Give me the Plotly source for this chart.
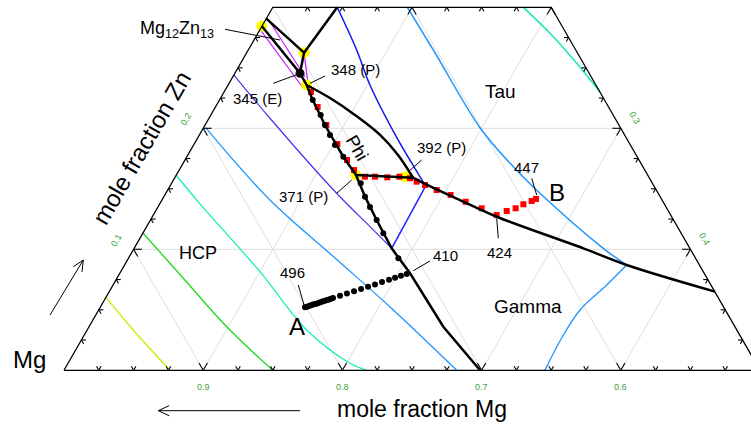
import numpy as np
import plotly.graph_objects as go

W, H = 751, 425
FONT = "Liberation Sans, Arial, sans-serif"

# ---------------- data: mole fraction Mg and Zn (Al = 1 - Mg - Zn) ----------------
# isotherms (coloured lines)
iso1_mg = [0.9397, 0.9336, 0.9239]
iso1_zn = [0.0603, 0.0333, 0.0]
iso2_mg = [0.8866, 0.8760, 0.8651, 0.8501]
iso2_zn = [0.1137, 0.0750, 0.0360, 0.0]
iso3_mg = [0.8388, 0.8343, 0.8185, 0.8090, 0.7916, 0.7825]
iso3_zn = [0.1614, 0.1407, 0.0815, 0.0333, 0.0058, 0.0]
iso3b_mg = [0.5200, 0.5116, 0.5048, 0.5000]
iso3b_zn = [0.3000, 0.2785, 0.2537, 0.2302]
iso4_mg = [0.7980, 0.7817, 0.7589, 0.7396, 0.7179]
iso4_zn = [0.2005, 0.1407, 0.0928, 0.0523, 0.0]
iso4b_mg = [0.6034, 0.6023, 0.6009, 0.5940, 0.5849, 0.5622, 0.5523]
iso4b_zn = [0.3000, 0.2647, 0.2005, 0.1711, 0.1463, 0.1008, 0.0870]
iso4c_mg = [0.5523, 0.5749, 0.6044, 0.6291, 0.6545]
iso4c_zn = [0.0870, 0.0705, 0.0498, 0.0267, 0.0]
iso5_mg = [0.6537, 0.6574, 0.6623, 0.6648, 0.6645, 0.6641]
iso5_zn = [0.3000, 0.2647, 0.2358, 0.1920, 0.1672, 0.1523]
iso5b_mg = [0.6641, 0.7142]
iso5b_zn = [0.1523, 0.1008]
iso6_mg = [0.7559, 0.7479, 0.7310, 0.7208, 0.7142]
iso6_zn = [0.2440, 0.2083, 0.1463, 0.1187, 0.1008]

# magenta tie lines near Mg12Zn13
mag1_mg = [0.7082, 0.7056]
mag1_zn = [0.2901, 0.2426]
mag2_mg = [0.7183, 0.7115]
mag2_zn = [0.2818, 0.2331]
mag3_mg = [0.6963, 0.7064]
mag3_zn = [0.2625, 0.2366]

# phase boundaries (black)
bd_top_mg = [0.6537, 0.6963]
bd_top_zn = [0.3000, 0.2625]
bd_left_mg = [0.7094, 0.6963, 0.7077]
bd_left_zn = [0.2909, 0.2625, 0.2455]
bd_phi_mg = [0.7157, 0.7077, 0.7078, 0.7096, 0.7112, 0.7111, 0.7095, 0.7120,
             0.7133, 0.7142, 0.7113, 0.7095, 0.7011]
bd_phi_zn = [0.2845, 0.2455, 0.2358, 0.2234, 0.2027, 0.1765, 0.1614, 0.1435,
             0.1242, 0.1008, 0.0802, 0.0360, 0.0]
bd_tau_mg = [0.7078, 0.6964, 0.6855, 0.6757, 0.6711, 0.6697]
bd_tau_zn = [0.2358, 0.2250, 0.2110, 0.1945, 0.1779, 0.1592]
bd_hor_mg = [0.7095, 0.6750, 0.6697]
bd_hor_zn = [0.1614, 0.1600, 0.1592]
bd_gam_mg = [0.6697, 0.6637, 0.6452, 0.6257, 0.5765, 0.5523, 0.4998]
bd_gam_zn = [0.1592, 0.1540, 0.1407, 0.1269, 0.1008, 0.0870, 0.0650]

# invariant points (yellow) and eutectic point
inv_mg = [0.7157, 0.6963, 0.7078, 0.7095, 0.6750]
inv_zn = [0.2845, 0.2625, 0.2358, 0.1614, 0.1600]
eut_mg = [0.7077]
eut_zn = [0.2455]

# solidification path B (red squares)
sq_mg = [0.7076, 0.7090, 0.7102, 0.7101, 0.7098, 0.7089,
         0.7038, 0.6966, 0.6880, 0.6791, 0.6721, 0.6687, 0.6641,
         0.6578, 0.6498, 0.6418, 0.6330, 0.6250,
         0.6161, 0.6086, 0.6014, 0.5941, 0.5901]
sq_zn = [0.2300, 0.2176, 0.2027, 0.1870, 0.1738, 0.1655,
         0.1600, 0.1600, 0.1595, 0.1600, 0.1587, 0.1559, 0.1531,
         0.1490, 0.1449, 0.1393, 0.1339, 0.1283,
         0.1317, 0.1339, 0.1372, 0.1399, 0.1416]

# solidification path A (black dots) along the Phi boundary
phi_dot_mg = [0.7096, 0.7101, 0.7112, 0.7117, 0.7122, 0.7111, 0.7096, 0.7120,
              0.7127, 0.7133, 0.7140, 0.7135]
phi_dot_zn = [0.2234, 0.2110, 0.2027, 0.1945, 0.1862, 0.1765, 0.1545, 0.1435,
              0.1350, 0.1242, 0.1132, 0.0926]
# solidification path A (black dots) in HCP field
a_dot_mg = [0.8008, 0.7991, 0.7974, 0.7957, 0.7940, 0.7923, 0.7906, 0.7888,
            0.7871, 0.7854, 0.7837, 0.7820, 0.7803, 0.7786, 0.7769, 0.7709,
            0.7650, 0.7590, 0.7530, 0.7470, 0.7411, 0.7351, 0.7291, 0.7240,
            0.7189, 0.7140]
a_dot_zn = [0.0521, 0.0526, 0.0532, 0.0537, 0.0543, 0.0548, 0.0553, 0.0559,
            0.0564, 0.0570, 0.0575, 0.0580, 0.0586, 0.0591, 0.0597, 0.0616,
            0.0635, 0.0653, 0.0672, 0.0691, 0.0710, 0.0729, 0.0748, 0.0764,
            0.0781, 0.0796]

# axis tick labels
mg_tick_labels = [0.9, 0.8, 0.7, 0.6]
zn_tick_labels = [0.1, 0.2]
al_tick_labels = [0.3, 0.4]
MG_MIN, ZN_MAX = 0.5, 0.3

# ---------------- layout-only items (pixel positions) ----------------
LABELS = [
    ("Mg<sub>12</sub>Zn<sub>13</sub>", 177, 29, 18, 0),
    ("348 (P)", 355.5, 70, 15, 0),
    ("345 (E)", 257.7, 98, 15, 0),
    ("Phi", 357, 148, 18, 60),
    ("392 (P)", 441.3, 147, 15, 0),
    ("371 (P)", 303, 196, 15, 0),
    ("Tau", 500, 91, 19, 0),
    ("447", 526, 167, 15, 0),
    ("B", 557, 192, 24, 0),
    ("424", 499.3, 252.7, 15, 0),
    ("410", 445, 255, 15, 0),
    ("Gamma", 527.7, 306, 19, 0),
    ("HCP", 197.7, 253.3, 18, 0),
    ("496", 292.7, 272.7, 15, 0),
    ("A", 296.7, 326, 24, 0),
    ("Mg", 29.5, 359, 24, 0),
    ("mole fraction Mg", 422, 409, 23, 0),
    ("mole fraction Zn", 142, 148, 24, -60),
]
LEADERS = [
    ((225, 29.3), (280, 40)),
    ((325, 76), (310, 83.3)),
    ((273.3, 83.3), (296, 75)),
    ((421.7, 160), (408.3, 171.7)),
    ((336.7, 193.3), (351.7, 180)),
    ((531.7, 178.3), (536.7, 195)),
    ((496.7, 218.3), (498.3, 238.3)),
    ((430, 261), (413.3, 270.7)),
    ((298.3, 285), (304, 305)),
]
ARROWS = [((300, 410.7), (158.3, 410.7)), ((50, 315), (83.3, 260))]


def XY(mg, zn):
    mg = np.asarray(mg, dtype=float)
    zn = np.asarray(zn, dtype=float)
    return (1.0 - mg - zn / 2.0).tolist(), zn.tolist()


def P(px, py):
    return px / W, 1 - py / H


fig = go.Figure()


def add_line(mg, zn, color, width, shape="linear"):
    x, y = XY(mg, zn)
    fig.add_trace(go.Scatter(x=x, y=y, mode="lines", line=dict(color=color, width=width, shape=shape),
                             hoverinfo="skip", showlegend=False))


def add_segments(segs, color, width):
    xs, ys = [], []
    for (m0, z0), (m1, z1) in segs:
        x, y = XY([m0, m1], [z0, z1])
        xs += x + [None]
        ys += y + [None]
    fig.add_trace(go.Scatter(x=xs, y=ys, mode="lines", line=dict(color=color, width=width),
                             hoverinfo="skip", showlegend=False))


def add_markers(mg, zn, symbol, size, color):
    x, y = XY(mg, zn)
    fig.add_trace(go.Scatter(x=x, y=y, mode="markers",
                             marker=dict(symbol=symbol, size=size, color=color, line=dict(width=0)),
                             hoverinfo="skip", showlegend=False))


# grid
grid = []
for zn in [0.1, 0.2]:
    grid.append(((1 - zn, zn), (MG_MIN, zn)))
for mg in [0.9, 0.8, 0.7, 0.6]:
    grid.append(((mg, 0.0), (mg, min(1 - mg, ZN_MAX))))
for al in [0.1, 0.2, 0.3, 0.4]:
    ze = min(ZN_MAX, 1 - MG_MIN - al)
    grid.append(((1 - al, 0.0), (1 - al - ze, ze)))
add_segments(grid, "#dedede", 1)

# isotherms
add_line(iso1_mg, iso1_zn, "#c8ee00", 1.3, "spline")
add_line(iso2_mg, iso2_zn, "#1ed81e", 1.3, "spline")
add_line(iso3_mg, iso3_zn, "#19ecbc", 1.3, "spline")
add_line(iso3b_mg, iso3b_zn, "#19ecbc", 1.6, "spline")
add_line(iso4_mg, iso4_zn, "#1e96ff", 1.3, "spline")
add_line(iso4b_mg, iso4b_zn, "#1e96ff", 1.5, "spline")
add_line(iso4c_mg, iso4c_zn, "#1e96ff", 1.3, "spline")
add_line(iso5_mg, iso5_zn, "#1414f0", 1.5, "spline")
add_line(iso5b_mg, iso5b_zn, "#2222ff", 1.5)
add_line(iso6_mg, iso6_zn, "#4a30f0", 1.2, "spline")

# magenta
add_line(mag1_mg, mag1_zn, "#c81eff", 1.2)
add_line(mag2_mg, mag2_zn, "#c81eff", 1.2)
add_line(mag3_mg, mag3_zn, "#c81eff", 1.2)

# yellow invariant points and red squares
add_markers(inv_mg, inv_zn, "circle", 11, "#ffff00")
add_markers(sq_mg, sq_zn, "square", 6, "#ff0000")

# black phase boundaries
add_line(bd_top_mg, bd_top_zn, "black", 2.5)
add_line(bd_left_mg, bd_left_zn, "black", 2.5)
add_line(bd_phi_mg, bd_phi_zn, "black", 2.5)
add_line(bd_tau_mg, bd_tau_zn, "black", 2.5, "spline")
add_line(bd_hor_mg, bd_hor_zn, "black", 2.5)
add_line(bd_gam_mg, bd_gam_zn, "black", 2.5, "spline")

# black dots
add_markers(phi_dot_mg, phi_dot_zn, "circle", 6, "black")
add_markers(a_dot_mg, a_dot_zn, "circle", 6, "black")
add_markers(eut_mg, eut_zn, "circle", 9, "black")

# frame
add_line([1.0, 1 - ZN_MAX, MG_MIN, MG_MIN, 1.0], [0.0, ZN_MAX, ZN_MAX, 0.0, 0.0], "black", 1.3)

# ticks
def tick_segs(starts, dirs):
    segs = []
    for (mg, zn, major) in starts:
        L = 0.0060 if major else 0.0033
        for dm, dz in dirs:
            segs.append(((mg, zn), (mg + dm * L, zn + dz * L)))
    return segs

def is_major(v):
    return int(round(v * 40)) % 4 == 0

ticks = []
vals = np.arange(0.975, 0.5, -0.025)
ticks += tick_segs([(m, 0.0, is_major(m)) for m in vals], [(0, 1), (-1, 1)])
vals = np.arange(0.025, 0.3, 0.025)
ticks += tick_segs([(1 - z, z, is_major(z)) for z in vals], [(-1, 0), (0, -1)])
ticks += tick_segs([(MG_MIN, z, is_major(z)) for z in vals], [(1, 0), (1, -1)])
vals = np.arange(0.675, 0.5, -0.025)
ticks += tick_segs([(m, ZN_MAX, is_major(m)) for m in vals], [(1, -1), (0, -1)])
add_segments(ticks, "black", 1.1)

annotations = []
TICKCOL = "#3a9f3a"
for m in mg_tick_labels:
    x, y = XY([m], [0.0])
    annotations.append(dict(x=x[0], y=y[0], xref="x", yref="y", text=f"{m:.1f}", showarrow=False,
                            font=dict(family=FONT, size=9, color=TICKCOL), yshift=-17))
for z in zn_tick_labels:
    x, y = XY([1 - z], [z])
    annotations.append(dict(x=x[0], y=y[0], xref="x", yref="y", text=f"{z:.1f}", showarrow=False,
                            textangle=-60, font=dict(family=FONT, size=9, color=TICKCOL),
                            xshift=-17, yshift=9))
for a in al_tick_labels:
    z = 1 - MG_MIN - a
    x, y = XY([MG_MIN], [z])
    annotations.append(dict(x=x[0], y=y[0], xref="x", yref="y", text=f"{a:.1f}", showarrow=False,
                            textangle=60, font=dict(family=FONT, size=9, color=TICKCOL),
                            xshift=14, yshift=10))

for text, px, py, size, ang in LABELS:
    x, y = P(px, py)
    annotations.append(dict(x=x, y=y, xref="paper", yref="paper", text=text, showarrow=False,
                            xanchor="center", yanchor="middle", textangle=ang,
                            font=dict(family=FONT, size=size, color="black")))

shapes = []
for (p0, p1) in LEADERS:
    x0, y0 = P(*p0)
    x1, y1 = P(*p1)
    shapes.append(dict(type="line", xref="paper", yref="paper", x0=x0, y0=y0, x1=x1, y1=y1,
                       line=dict(color="black", width=1)))

for (tail, tip) in ARROWS:
    tx, ty = tail
    hx, hy = tip
    d = np.array([hx - tx, hy - ty], dtype=float)
    d /= np.linalg.norm(d)
    pts = []
    for s in (1, -1):
        ang = np.radians(25) * s
        r = np.array([[np.cos(ang), -np.sin(ang)], [np.sin(ang), np.cos(ang)]])
        b = r @ (-d) * 12
        pts.append((hx + b[0], hy + b[1]))
    t0 = P(tx, ty)
    a1, a2 = P(*pts[0]), P(*pts[1])
    h = P(hx, hy)
    path = (f"M{t0[0]},{t0[1]} L{h[0]},{h[1]} "
            f"M{a1[0]},{a1[1]} L{h[0]},{h[1]} L{a2[0]},{a2[1]}")
    shapes.append(dict(type="path", xref="paper", yref="paper", path=path,
                       line=dict(color="black", width=1)))

fig.update_layout(
    width=W, height=H, autosize=False,
    margin=dict(l=0, r=0, t=0, b=0, pad=0),
    paper_bgcolor="white", plot_bgcolor="white",
    xaxis=dict(visible=False, range=[-64 / 1392, (W - 64) / 1392], fixedrange=True),
    yaxis=dict(visible=False, range=[(370.3 - H) / 1210, 370.3 / 1210], fixedrange=True),
    annotations=annotations, shapes=shapes, showlegend=False,
)

fig.write_html("out.html")
